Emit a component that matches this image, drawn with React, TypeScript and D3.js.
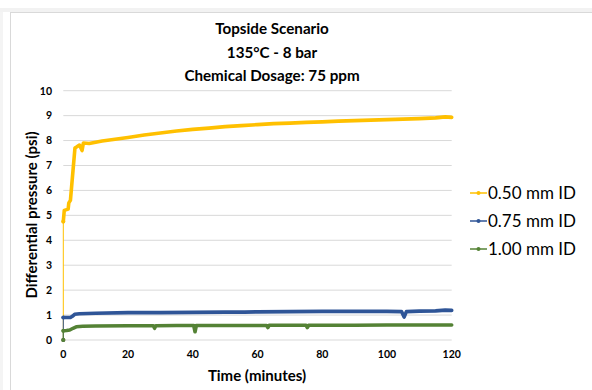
import * as d3 from 'd3';
import React from 'react';

// series: [minutes, psi]
const yellowData: [number, number][] = [
  [0, 0], [0, 4.75], [0.3, 5.2], [1.5, 5.25], [1.7, 5.5], [2.2, 5.6], [3, 6.8], [3.6, 7.7],
  [4.2, 7.75], [5, 7.82], [5.8, 7.6], [6.2, 7.9], [8, 7.88], [12, 7.98], [16, 8.05], [20, 8.12],
  [25, 8.22], [30, 8.3], [35, 8.38], [40, 8.45], [45, 8.5], [50, 8.56], [55, 8.6], [60, 8.64],
  [65, 8.68], [70, 8.7], [75, 8.73], [80, 8.75], [85, 8.78], [90, 8.8], [95, 8.82], [100, 8.84],
  [105, 8.86], [110, 8.88], [115, 8.91], [118, 8.95], [120, 8.93],
];
const blueData: [number, number][] = [
  [0, 0], [0, 0.9], [1, 0.9], [2.2, 0.9], [2.8, 0.95], [3.5, 1.03], [5, 1.05], [10, 1.07],
  [20, 1.1], [30, 1.1], [40, 1.11], [50, 1.12], [56, 1.12], [60, 1.13], [70, 1.14], [80, 1.15],
  [90, 1.15], [100, 1.15], [104.5, 1.14], [105.3, 0.92], [106, 1.14], [110, 1.16], [115, 1.17],
  [118, 1.2], [120, 1.19],
];
const greenData: [number, number][] = [
  [0, 0], [0, 0.37], [1, 0.38], [2, 0.4], [3, 0.47], [4, 0.53], [6, 0.55], [10, 0.56], [20, 0.57],
  [27.8, 0.57], [28.2, 0.47], [28.6, 0.57], [35, 0.58], [40.3, 0.58], [40.7, 0.33], [41.1, 0.58],
  [50, 0.58], [62.8, 0.58], [63.2, 0.5], [63.6, 0.59], [75, 0.59], [75.4, 0.5], [75.8, 0.59],
  [90, 0.59], [100, 0.6], [110, 0.6], [120, 0.6],
];

const seriesNames = ['0.50 mm ID', '0.75 mm ID', '1.00 mm ID'];
const seriesColors = ['#FFC000', '#2F5597', '#548235'];
const yTicks = [0, 1, 2, 3, 4, 5, 6, 7, 8, 9, 10];
const xTicks = [0, 20, 40, 60, 80, 100, 120];
const titleLines = ['Topside Scenario', '135°C - 8 bar', 'Chemical Dosage: 75 ppm'];

const W = 592;
const H = 390;
const font = 'Lato, "Open Sans", sans-serif';

const App = () => {
  const x = d3.scaleLinear().domain([0, 120]).range([63.3, 451.7]);
  const y = d3.scaleLinear().domain([0, 10]).range([340, 90.7]);
  const line = d3.line<[number, number]>().x((d) => x(d[0])).y((d) => y(d[1]));
  const allSeries = [yellowData, blueData, greenData];

  return (
    <svg width={W} height={H} style={{ position: 'absolute', left: 0, top: 0 }}>
      <rect x={0} y={0} width={W} height={H} fill="#fff" />
      {/* frame of the screenshot */}
      <rect x={0} y={8} width={W} height={4} fill="#f2f2f2" />
      <line x1={10} x2={W} y1={12.5} y2={12.5} stroke="#d9d9d9" />
      <line x1={10.5} x2={10.5} y1={12} y2={H} stroke="#d9d9d9" />
      <rect x={0} y={12} width={3} height={H} fill="#f4f4f4" />

      {titleLines.map((t, i) => (
        <text key={t} x={272} y={34 + i * 23.5} textAnchor="middle" fontFamily={font}
          fontWeight="bold" fontSize={15.2} fill="#000">{t}</text>
      ))}

      {yTicks.map((t) => (
        <g key={t}>
          <line x1={x(0)} x2={x(120)} y1={y(t)} y2={y(t)} stroke="#d9d9d9" strokeWidth={1} />
          <text x={52} y={y(t) + 3.8} textAnchor="end" fontFamily={font} fontWeight="bold"
            fontSize={10.5} fill="#000">{t}</text>
        </g>
      ))}
      {xTicks.map((t) => (
        <text key={t} x={x(t)} y={358} textAnchor="middle" fontFamily={font} fontWeight="bold"
          fontSize={10.5} fill="#000">{t}</text>
      ))}

      <text x={257} y={381} textAnchor="middle" fontFamily={font} fontWeight="bold" fontSize={15}
        fill="#000">Time (minutes)</text>
      <text transform={`translate(37,${215}) rotate(-90)`} textAnchor="middle" fontFamily={font}
        fontWeight="bold" fontSize={15} fill="#000">Differential pressure (psi)</text>

      {allSeries.map((data, i) => (
        <g key={i}>
          <path d={line(data.slice(0, 2)) ?? ''} fill="none" stroke={seriesColors[i]} strokeWidth={1} />
          <path d={line(data.slice(1)) ?? ''} fill="none" stroke={seriesColors[i]} strokeWidth={3.6}
            strokeLinejoin="round" strokeLinecap="round" />
          {data.slice(0, 2).map((d, j) => (
            <circle key={j} cx={x(d[0])} cy={y(d[1])} r={2} fill={seriesColors[i]} />
          ))}
        </g>
      ))}

      {seriesNames.map((n, i) => (
        <g key={n} transform={`translate(0,${193 + i * 28})`}>
          <line x1={470} x2={487} y1={0} y2={0} stroke={seriesColors[i]} strokeWidth={1.5} />
          <circle cx={478.5} cy={0} r={2} fill={seriesColors[i]} />
          <text x={488} y={6} fontFamily={font} fontSize={17} fill="#000">{n}</text>
        </g>
      ))}
    </svg>
  );
};

export default App;
